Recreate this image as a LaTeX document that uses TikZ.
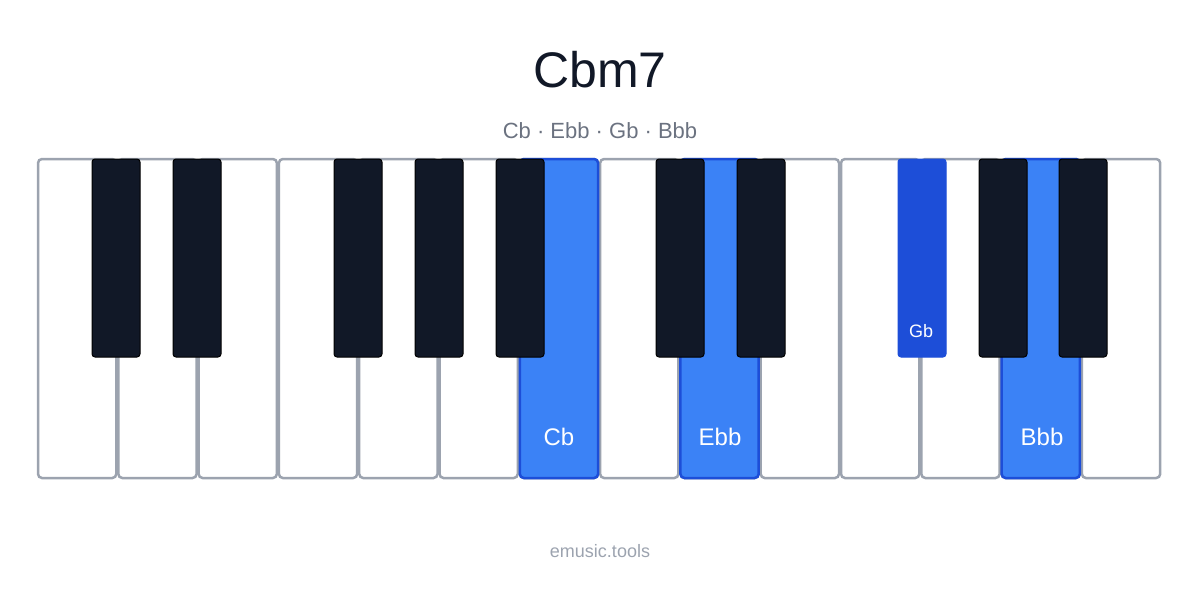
\documentclass[tikz,border=0pt]{standalone}
\usepackage{fontspec}
\setmainfont{Liberation Sans}
\definecolor{keyborder}{HTML}{9CA3AF}
\definecolor{keyblack}{HTML}{111827}
\definecolor{hlblue}{HTML}{3B82F6}
\definecolor{hldark}{HTML}{1D4ED8}
\definecolor{subgray}{HTML}{6B7280}
\tikzset{
  whitekey/.style={draw=keyborder, line width=2.5pt, fill=white, rounded corners=4pt},
  whitehl/.style={draw=hldark, line width=2.5pt, fill=hlblue, rounded corners=4pt},
  blackkey/.style={draw=black, line width=1pt, fill=keyblack, rounded corners=3pt},
  blackhl/.style={draw=hldark, line width=1pt, fill=hldark, rounded corners=3pt},
  notelabel/.style={text=white, font=\fontsize{24}{28}\selectfont},
}
\begin{document}
\begin{tikzpicture}[x=1pt, y=-1pt]
	\useasboundingbox (0,0) rectangle (1200,600);
	
	% white keys
	\foreach \i in {0,...,13} {
		\draw[whitekey] ({38+\i*80.3},159) rectangle ({38+(\i+1)*80.3-2},478);
	}
	% highlighted white keys
	\foreach \i in {6,8,12} {
		\draw[whitehl] ({38+\i*80.3},159) rectangle ({38+(\i+1)*80.3-2},478);
	}
	% black keys
	\foreach \x in {92,173,334,415,496,656,737,979,1059} {
		\draw[blackkey] (\x,159) rectangle (\x+48,357);
	}
	\draw[blackhl] (898,159) rectangle (946,357);
	
	% labels
	\node[notelabel] (cb) at (559,437) {Cb};
	\node[notelabel] (ebb) at (720,437) {Ebb};
	\node[notelabel] (bbb) at (1042,437) {Bbb};
	\node[text=white, font=\fontsize{18}{22}\selectfont] (gb) at (921,331) {Gb};
	
	% titles
	\node[text=keyblack, font=\fontsize{50}{60}\selectfont] (title) at (600,70) {Cbm7};
	\node[text=subgray, font=\fontsize{22}{26}\selectfont] (notes) at (600,131) {Cb · Ebb · Gb · Bbb};
	\node[text=keyborder, font=\fontsize{18}{22}\selectfont] (footer) at (600,551) {emusic.tools};
	
\end{tikzpicture}
\end{document}
